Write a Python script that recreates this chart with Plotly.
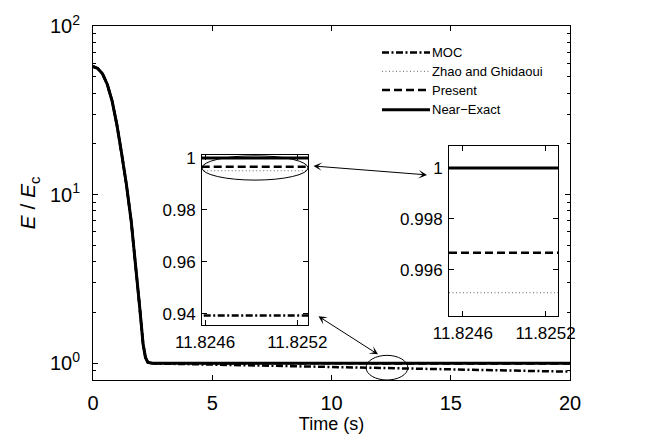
import plotly.graph_objects as go

# ---------------- data ----------------
t = [0, 0.2, 0.4, 0.6, 0.8, 1.0, 1.2, 1.4, 1.6, 1.8, 1.95, 2.1, 2.2, 2.3,
     2.5, 3, 4, 6, 8, 10, 11.82, 14, 16, 18, 20]
near_exact = [57.5, 56, 52, 45, 36, 26, 17.5, 11.5, 7, 3.8, 2.2, 1.3, 1.08, 1.01,
              1.0, 1.0, 1.0, 1.0, 1.0, 1.0, 1.0, 1.0, 1.0, 1.0, 1.0]
present = [57.5, 56, 52, 45, 36, 26, 17.5, 11.5, 7, 3.8, 2.2, 1.3, 1.08, 1.01,
           1.0, 0.9995, 0.999, 0.9985, 0.998, 0.9972, 0.99667, 0.996, 0.9955, 0.995, 0.9945]
zhao = [57.5, 56, 52, 45, 36, 26, 17.5, 11.5, 7, 3.8, 2.2, 1.3, 1.08, 1.01,
        0.9995, 0.999, 0.9985, 0.9975, 0.9968, 0.9959, 0.9951, 0.9942, 0.9934, 0.9926, 0.9918]
moc = [57.5, 56, 52, 45, 36, 26, 17.5, 11.5, 7, 3.8, 2.2, 1.3, 1.08, 1.005,
       0.997, 0.993, 0.986, 0.972, 0.961, 0.95, 0.9394, 0.926, 0.913, 0.901, 0.89]

inset_t = [11.8245, 11.8253]
inset_near = [1.0, 1.0]
inset_present = [0.99667, 0.99667]
inset_zhao = [0.9951, 0.9951]
inset_moc = [0.9394, 0.9394]

names = ["MOC", "Zhao and Ghidaoui", "Present", "Near\u2212Exact"]
x_ticks = [0, 5, 10, 15, 20]
y_ticks = [1, 10, 100]
y_ticktext = ["10<sup>0</sup>", "10<sup>1</sup>", "10<sup>2</sup>"]
y_minor = [0.8, 0.9, 2, 3, 4, 5, 6, 7, 8, 9, 20, 30, 40, 50, 60, 70, 80, 90]
inset_x_ticks = [11.8246, 11.8252]
inset_x_text = ["11.8246", "11.8252"]
inset1_y_ticks = [0.94, 0.96, 0.98, 1.0]
inset1_y_text = ["0.94", "0.96", "0.98", "1"]
inset2_y_ticks = [0.996, 0.998, 1.0]
inset2_y_text = ["0.996", "0.998", "1"]

# ---------------- styles ----------------
FONT = "Liberation Sans, Arial, sans-serif"
W, H = 652, 446
L, R, T, B = 93, 570, 21, 380
PW, PH = R - L, B - T

def px_x(px):
    return (px - L) / PW

def px_y(py):
    return (B - py) / PH

styles = {
    "MOC": dict(color="black", width=2.5, dash="7px,2.5px,2px,2.5px"),
    "Zhao and Ghidaoui": dict(color="#666666", width=1, dash="1px,2.5px"),
    "Present": dict(color="black", width=2.5, dash="8px,4px"),
    "Near\u2212Exact": dict(color="black", width=3),
}

fig = go.Figure()

main_series = [moc, zhao, present, near_exact]
for nm, ys in zip(names, main_series):
    fig.add_trace(go.Scatter(x=t, y=ys, mode="lines", name=nm,
                             line=styles[nm], xaxis="x", yaxis="y",
                             showlegend=False))

inset_series = [inset_moc, inset_zhao, inset_present, inset_near]
for ax_x, ax_y in [("x2", "y2"), ("x3", "y3")]:
    for nm, ys in zip(names, inset_series):
        fig.add_trace(go.Scatter(x=inset_t, y=ys, mode="lines", name=nm,
                                 line=styles[nm], xaxis=ax_x, yaxis=ax_y,
                                 showlegend=False))

def axis_common(size):
    return dict(showline=True, linecolor="black", linewidth=1, mirror="ticks",
                ticks="inside", tickcolor="black", ticklen=5, showgrid=False,
                zeroline=False, tickfont=dict(family=FONT, size=size, color="black"))

inset1 = (202, 308, 152, 324)
inset2 = (449, 558, 143, 315)

fig.update_layout(
    width=W, height=H,
    margin=dict(l=L, r=W - R, t=T, b=H - B),
    paper_bgcolor="white", plot_bgcolor="white",
    font=dict(family=FONT, color="black"),
    showlegend=False,
    xaxis=dict(domain=[0, 1], range=[0, 20], tickvals=x_ticks, anchor="y",
               ticklabelstandoff=5,
               title=dict(text="Time (s)", font=dict(family=FONT, size=18), standoff=3),
               **axis_common(20)),
    yaxis=dict(domain=[0, 1], type="log", range=[-0.1, 2], tickvals=y_ticks,
               ticktext=y_ticktext, anchor="x", ticklabelstandoff=8,
               minor=dict(tickmode="array", tickvals=y_minor, ticks="inside",
                          ticklen=3, tickcolor="black"),
               title=dict(text="<i>E</i> / <i>E</i><sub>c</sub>",
                          font=dict(family=FONT, size=21), standoff=8),
               **axis_common(20)),
    xaxis2=dict(domain=[px_x(inset1[0]), px_x(inset1[1])], anchor="y2",
                range=[11.82458, 11.82527], tickvals=inset_x_ticks,
                ticktext=inset_x_text, ticklabelstandoff=2, **axis_common(17)),
    yaxis2=dict(domain=[px_y(inset1[3]), px_y(inset1[2])], anchor="x2",
                range=[0.9358, 1.0011], tickvals=inset1_y_ticks,
                ticktext=inset1_y_text, ticklabelstandoff=2, **axis_common(17)),
    xaxis3=dict(domain=[px_x(inset2[0]), px_x(inset2[1])], anchor="y3",
                range=[11.8245, 11.82529], tickvals=inset_x_ticks,
                ticktext=inset_x_text, ticklabelstandoff=2, **axis_common(17)),
    yaxis3=dict(domain=[px_y(inset2[3]), px_y(inset2[2])], anchor="x3",
                range=[0.99419, 1.00085], tickvals=inset2_y_ticks,
                ticktext=inset2_y_text, ticklabelstandoff=2, **axis_common(17)),
)

# legend (drawn as line samples + labels)
leg_rows = [48, 67, 86, 106]
for nm, ry in zip(names, leg_rows):
    st = styles[nm]
    fig.add_shape(type="line", xref="paper", yref="paper",
                  x0=px_x(382), x1=px_x(430), y0=px_y(ry), y1=px_y(ry),
                  line=dict(color=st["color"], width=st["width"], dash=st.get("dash", "solid")))
    fig.add_annotation(xref="paper", yref="paper", x=px_x(430), y=px_y(ry),
                       xanchor="left", yanchor="middle", text=nm, showarrow=False,
                       font=dict(family=FONT, size=13, color="black"))

# ellipses
fig.add_shape(type="circle", xref="x2", yref="y2",
              x0=11.82458, x1=11.82527, y0=0.9915, y1=1.0009,
              line=dict(color="black", width=1))
fig.add_shape(type="circle", xref="x", yref="paper",
              x0=11.45, x1=13.2, y0=px_y(380), y1=px_y(355),
              line=dict(color="black", width=1))

# double-headed arrows
fig.add_annotation(xref="paper", yref="paper", x=px_x(427), y=px_y(172),
                   ax=312 - 427, ay=163 - 172, axref="pixel", ayref="pixel",
                   showarrow=True, arrowhead=3, startarrowhead=3, arrowside="end+start",
                   arrowsize=1.4, startarrowsize=1.4, arrowwidth=1, arrowcolor="black", text="")
fig.add_annotation(xref="paper", yref="paper", x=px_x(378), y=px_y(354),
                   ax=317 - 378, ay=315 - 354, axref="pixel", ayref="pixel",
                   showarrow=True, arrowhead=3, startarrowhead=3, arrowside="end+start",
                   arrowsize=1.4, startarrowsize=1.4, arrowwidth=1, arrowcolor="black", text="")

fig.write_html("out.html")
